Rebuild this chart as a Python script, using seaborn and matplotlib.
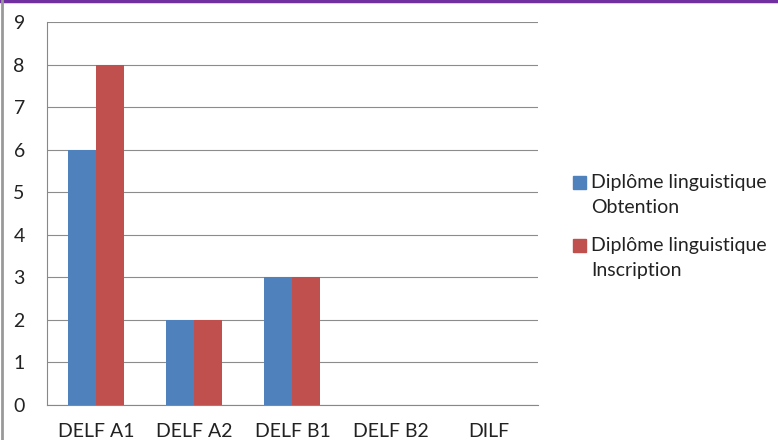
import matplotlib.pyplot as plt
import seaborn as sns
import pandas as pd
from matplotlib.lines import Line2D

# Données du graphique
diplomes = ['DELF A1', 'DELF A2', 'DELF B1', 'DELF B2', 'DILF']
obtention = [6, 2, 3, 0, 0]
inscription = [8, 2, 3, 0, 0]
series = ['Diplôme linguistique\nObtention', 'Diplôme linguistique\nInscription']
couleurs = ['#4F81BD', '#C0504D']

df = pd.DataFrame({
    'Diplome': diplomes * 2,
    'Nombre': obtention + inscription,
    'Serie': [series[0]] * len(diplomes) + [series[1]] * len(diplomes),
})

sns.set_style('white')
plt.rcParams['font.family'] = ['Lato', 'DejaVu Sans']

fig = plt.figure(figsize=(7.78, 4.40), dpi=100)
ax = fig.add_axes([0.0604, 0.0795, 0.631, 0.8705])

sns.barplot(data=df, x='Diplome', y='Nombre', hue='Serie', palette=couleurs,
            width=0.57, saturation=1, linewidth=0, ax=ax, zorder=3)

ax.set_ylim(0, 9)
ax.set_xlim(-0.5, 4.5)
ax.set_yticks(range(0, 10))
ax.yaxis.grid(True, color='#8c8c8c', linewidth=0.8, zorder=0)
ax.set_axisbelow(True)
ax.set_xlabel('')
ax.set_ylabel('')

# ticks entre les catégories
ax.set_xticks(range(5))
ax.set_xticklabels(diplomes)
ax.set_xticks([i - 0.5 for i in range(6)], minor=True)
ax.tick_params(axis='x', which='major', length=0, labelsize=14, labelcolor='#222222', pad=13)
ax.tick_params(axis='x', which='minor', length=5, color='#888888', direction='out')
ax.tick_params(axis='y', length=5, color='#888888', direction='out', labelsize=14,
               labelcolor='#222222', pad=11)

for s in ['top', 'right']:
    ax.spines[s].set_visible(False)
for s in ['left', 'bottom']:
    ax.spines[s].set_color('#888888')
    ax.spines[s].set_linewidth(0.8)

# légende dessinée à la main (carré aligné sur la première ligne)
ax.legend_.remove()
W, H = 778, 440
for i, (lab, c) in enumerate(zip(series, couleurs)):
    y0 = 183 + i * 63
    fig.patches.append(plt.Rectangle((573 / W, 1 - (y0 + 6.5) / H), 13 / W, 13 / H,
                                     color=c, transform=fig.transFigure, figure=fig))
    fig.text(591 / W, 1 - (y0 - 9) / H, lab, fontsize=14, color='#222222',
             va='top', ha='left', linespacing=1.55)

# cadre de la diapositive
fig.add_artist(Line2D([0, 1], [0.997, 0.997], color='#7030A0', linewidth=2.5,
                      transform=fig.transFigure))
fig.add_artist(Line2D([0.003, 0.003], [0, 1], color='#999999', linewidth=2,
                      transform=fig.transFigure))

fig.savefig('out.png', dpi=100)
